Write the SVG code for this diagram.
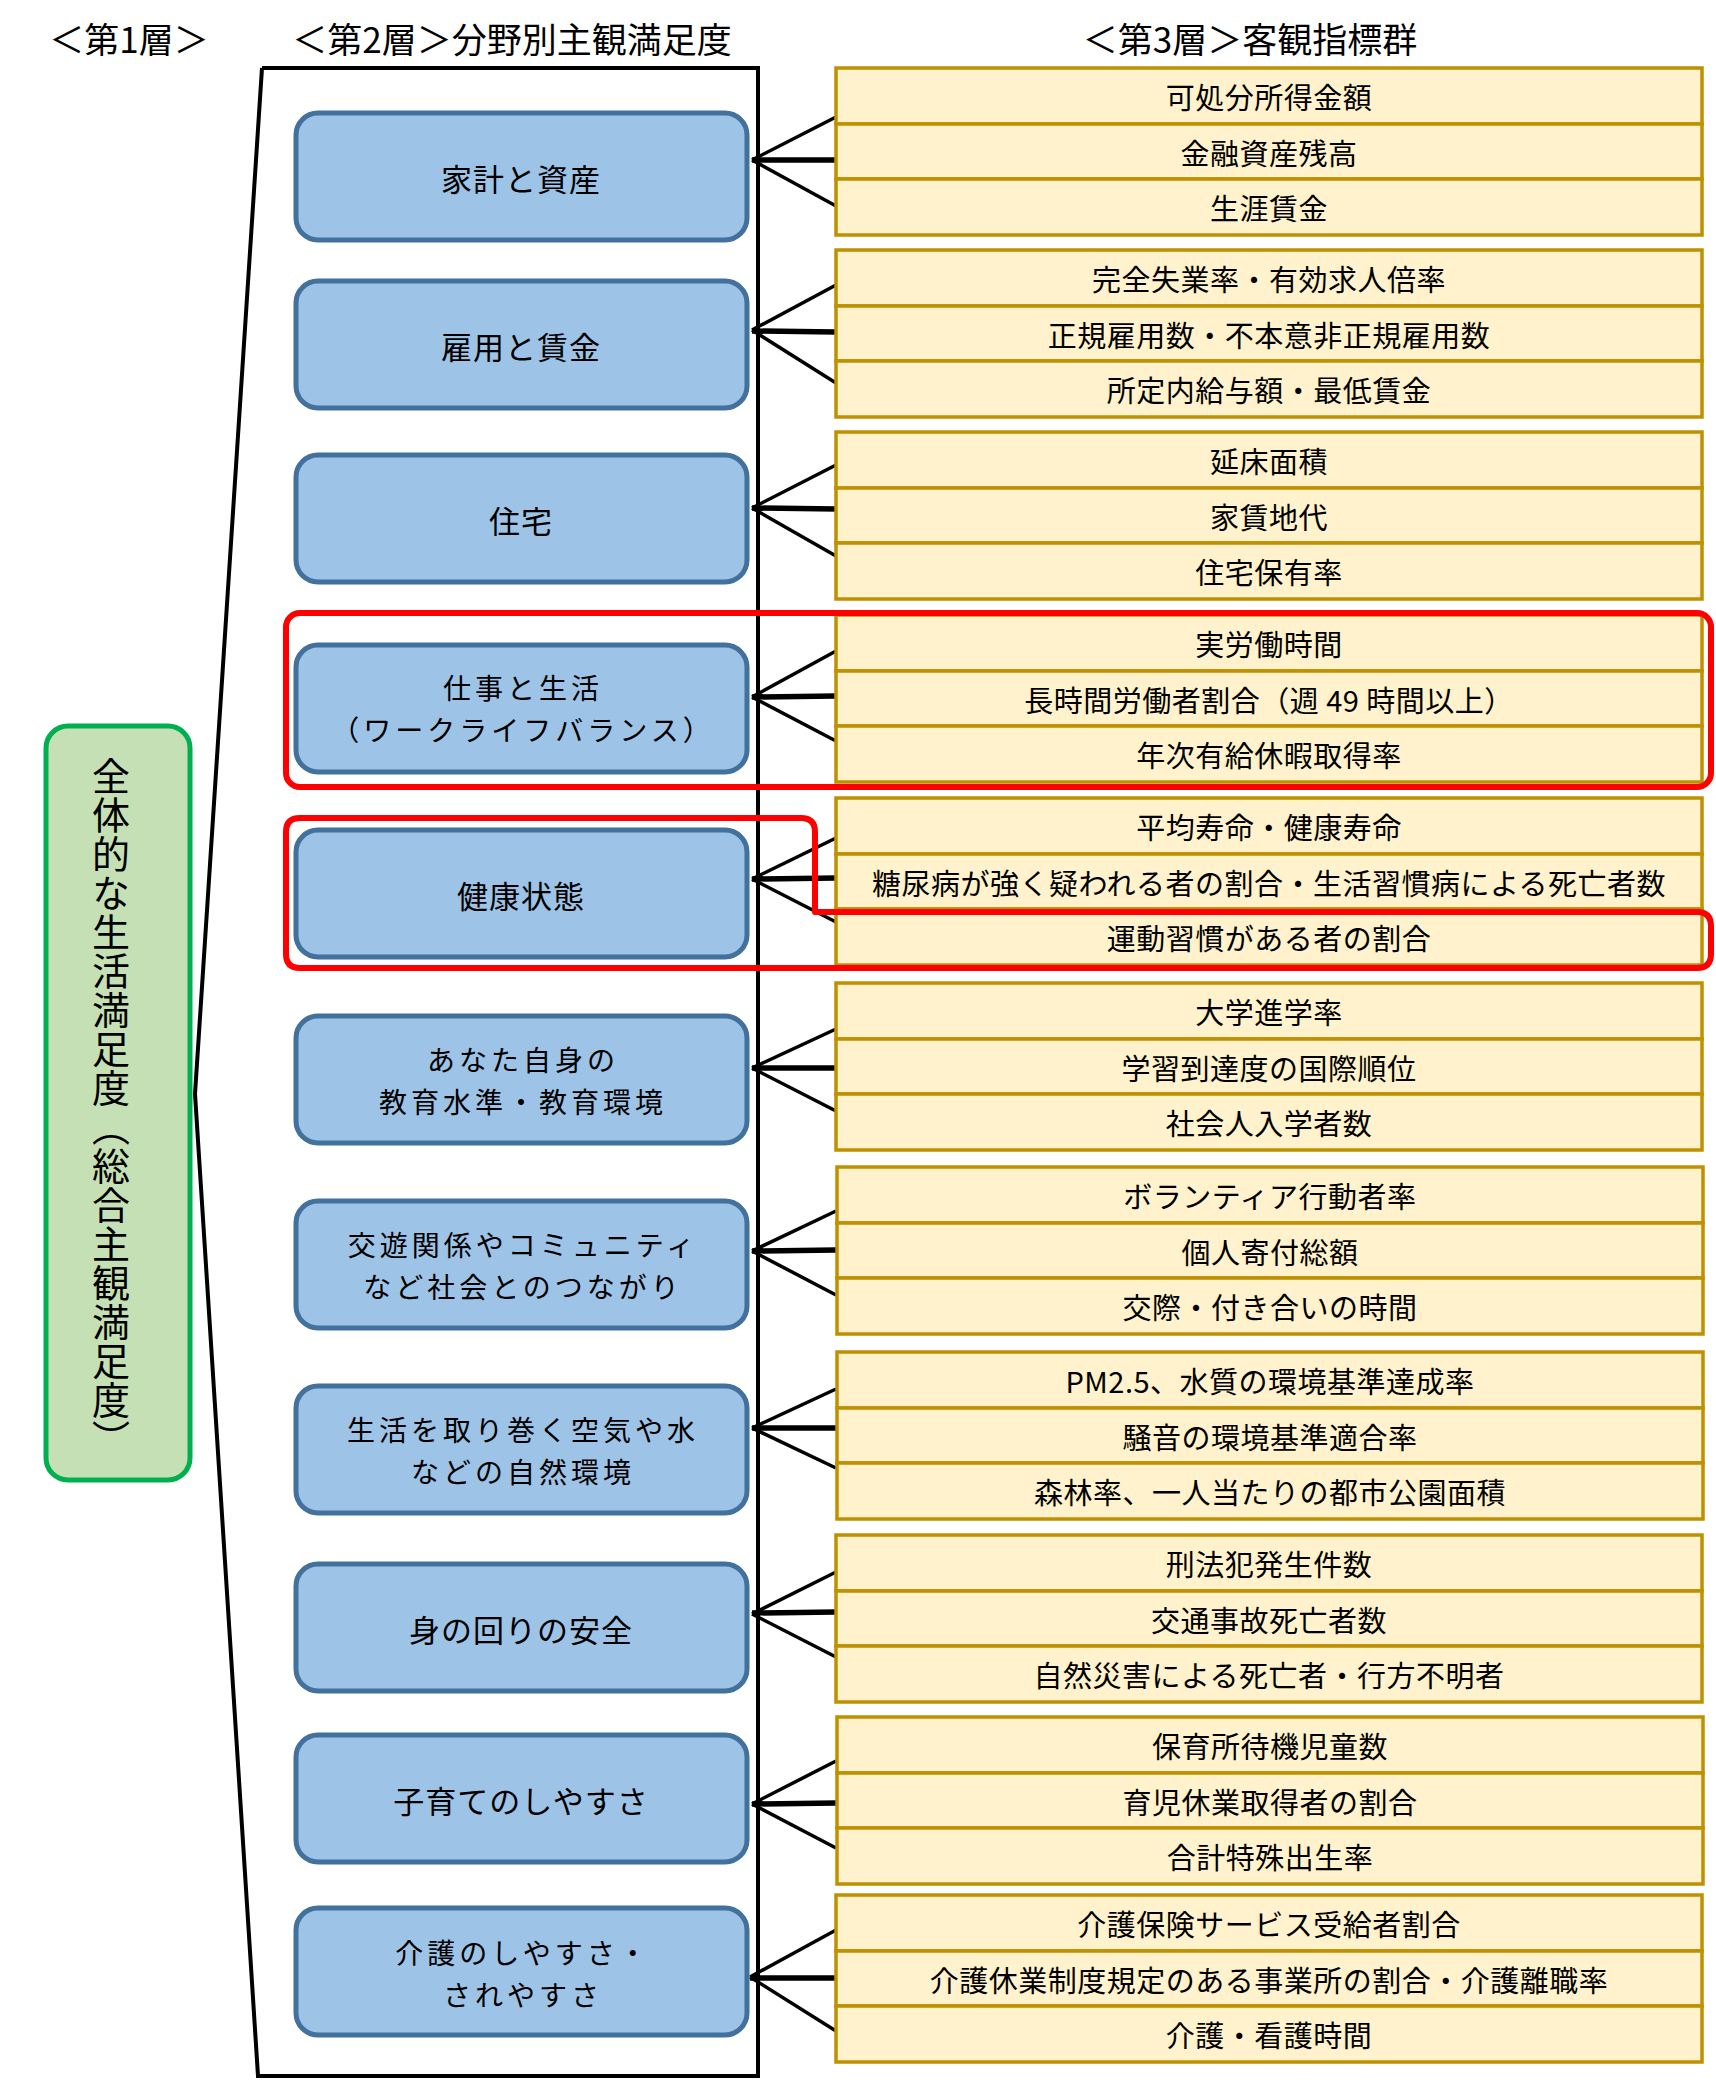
<svg xmlns="http://www.w3.org/2000/svg" width="1716" height="2085" viewBox="0 0 1716 2085">
<defs>
<style>
text{font-family:"Noto Sans CJK JP","Noto Sans CJK SC",sans-serif;fill:#000;}
.title{font-size:35px;text-anchor:middle;dominant-baseline:central;}
.bt{font-size:31px;letter-spacing:1px;text-anchor:middle;dominant-baseline:central;}
.bt2{font-size:28px;letter-spacing:4px;text-anchor:middle;dominant-baseline:central;}
.yt{font-size:29px;letter-spacing:0.5px;text-anchor:middle;dominant-baseline:central;}
.blue{fill:#9DC3E6;stroke:#41719C;stroke-width:5;}
.yel{fill:#FFF2CC;stroke:#BF9000;stroke-width:3.5;}
.green{fill:#C5E0B4;stroke:#00B050;stroke-width:5;}
.red{fill:none;stroke:#FF0000;stroke-width:6;stroke-linejoin:round;}
.frame{fill:none;stroke:#000;stroke-width:4;stroke-linejoin:miter;}
.dl{stroke:#000;stroke-width:3.5;fill:none;}
.ml{stroke:#000;stroke-width:5.5;fill:none;}
.vt{font-size:38px;letter-spacing:1px;writing-mode:vertical-rl;text-anchor:middle;}
</style>
</defs>
<rect x="0" y="0" width="1716" height="2085" fill="#FFFFFF"/>

<g id="titles">
<text class="title" x="129" y="37">＜第1層＞</text>
<text class="title" x="512" y="37">＜第2層＞分野別主観満足度</text>
<text class="title" x="1250" y="37">＜第3層＞客観指標群</text>
</g>

<g id="connectors">
<polyline class="frame" points="262,68 758,68 758,2076 258,2076 195,1094 262,68"/>
<g id="c1"><line class="dl" x1="752" y1="160" x2="836" y2="117"/><line class="ml" x1="752" y1="160" x2="836" y2="160"/><line class="dl" x1="752" y1="160" x2="836" y2="206"/></g>
<g id="c2"><line class="dl" x1="752" y1="330" x2="836" y2="285"/><line class="ml" x1="752" y1="331" x2="836" y2="332"/><line class="dl" x1="752" y1="330" x2="836" y2="383"/></g>
<g id="c3"><line class="dl" x1="752" y1="508" x2="836" y2="465"/><line class="ml" x1="752" y1="508" x2="836" y2="509"/><line class="dl" x1="752" y1="508" x2="836" y2="556"/></g>
<g id="c4"><line class="dl" x1="752" y1="697" x2="836" y2="651"/><line class="ml" x1="752" y1="697" x2="836" y2="696"/><line class="dl" x1="752" y1="697" x2="836" y2="741"/></g>
<g id="c5"><line class="dl" x1="752" y1="879" x2="836" y2="838"/><line class="ml" x1="752" y1="879" x2="836" y2="878"/><line class="dl" x1="752" y1="879" x2="836" y2="922"/></g>
<g id="c6"><line class="dl" x1="752" y1="1068" x2="836" y2="1029"/><line class="ml" x1="752" y1="1068" x2="836" y2="1068"/><line class="dl" x1="752" y1="1068" x2="836" y2="1111"/></g>
<g id="c7"><line class="dl" x1="752" y1="1251" x2="836" y2="1211"/><line class="ml" x1="752" y1="1251" x2="836" y2="1250"/><line class="dl" x1="752" y1="1251" x2="836" y2="1295"/></g>
<g id="c8"><line class="dl" x1="752" y1="1428" x2="836" y2="1389"/><line class="ml" x1="752" y1="1428" x2="836" y2="1428"/><line class="dl" x1="752" y1="1428" x2="836" y2="1468"/></g>
<g id="c9"><line class="dl" x1="752" y1="1614" x2="836" y2="1572"/><line class="ml" x1="752" y1="1613" x2="836" y2="1612"/><line class="dl" x1="752" y1="1614" x2="836" y2="1657"/></g>
<g id="c10"><line class="dl" x1="752" y1="1804" x2="836" y2="1761"/><line class="ml" x1="752" y1="1804" x2="836" y2="1803"/><line class="dl" x1="752" y1="1804" x2="836" y2="1848"/></g>
<g id="c11"><line class="dl" x1="750" y1="1977" x2="836" y2="1930"/><line class="ml" x1="750" y1="1978" x2="836" y2="1978"/><line class="dl" x1="750" y1="1977" x2="836" y2="2031"/></g>
</g>

<g id="overall">
<rect class="green" x="46" y="726" width="144" height="754" rx="22"/>
<text class="vt" x="111" y="1108">全体的な生活満足度（総合主観満足度）</text>
</g>

<g id="b1"><rect class="blue" x="296" y="113" width="451" height="127" rx="22"/><text class="bt" x="521" y="177">家計と資産</text></g>
<g id="b2"><rect class="blue" x="296" y="281" width="451" height="127" rx="22"/><text class="bt" x="521" y="345">雇用と賃金</text></g>
<g id="b3"><rect class="blue" x="296" y="455" width="451" height="127" rx="22"/><text class="bt" x="521" y="519">住宅</text></g>
<g id="b4"><rect class="blue" x="296" y="645" width="451" height="127" rx="22"/><text class="bt2" x="523" y="687">仕事と生活</text><text class="bt2" x="523" y="729">（ワークライフバランス）</text></g>
<g id="b5"><rect class="blue" x="296" y="830" width="451" height="127" rx="22"/><text class="bt" x="521" y="894">健康状態</text></g>
<g id="b6"><rect class="blue" x="296" y="1016" width="451" height="127" rx="22"/><text class="bt2" x="523" y="1059">あなた自身の</text><text class="bt2" x="523" y="1101">教育水準・教育環境</text></g>
<g id="b7"><rect class="blue" x="296" y="1201" width="451" height="127" rx="22"/><text class="bt2" x="523" y="1244">交遊関係やコミュニティ</text><text class="bt2" x="523" y="1286">など社会とのつながり</text></g>
<g id="b8"><rect class="blue" x="296" y="1386" width="451" height="127" rx="22"/><text class="bt2" x="523" y="1429">生活を取り巻く空気や水</text><text class="bt2" x="523" y="1471">などの自然環境</text></g>
<g id="b9"><rect class="blue" x="296" y="1564" width="451" height="127" rx="22"/><text class="bt" x="521" y="1628">身の回りの安全</text></g>
<g id="b10"><rect class="blue" x="296" y="1735" width="451" height="127" rx="22"/><text class="bt" x="521" y="1799">子育てのしやすさ</text></g>
<g id="b11"><rect class="blue" x="296" y="1908" width="451" height="127" rx="22"/><text class="bt2" x="523" y="1952">介護のしやすさ・</text><text class="bt2" x="523" y="1994">されやすさ</text></g>

<g id="y1">
<g id="y1a"><rect class="yel" x="836" y="68" width="866" height="56"/><text class="yt" x="1269" y="96">可処分所得金額</text></g>
<g id="y1b"><rect class="yel" x="836" y="124" width="866" height="55"/><text class="yt" x="1269" y="152">金融資産残高</text></g>
<g id="y1c"><rect class="yel" x="836" y="179" width="866" height="56"/><text class="yt" x="1269" y="207">生涯賃金</text></g>
</g>
<g id="y2">
<g id="y2a"><rect class="yel" x="836" y="250" width="866" height="56"/><text class="yt" x="1269" y="278">完全失業率・有効求人倍率</text></g>
<g id="y2b"><rect class="yel" x="836" y="306" width="866" height="55"/><text class="yt" x="1269" y="334">正規雇用数・不本意非正規雇用数</text></g>
<g id="y2c"><rect class="yel" x="836" y="361" width="866" height="56"/><text class="yt" x="1269" y="389">所定内給与額・最低賃金</text></g>
</g>
<g id="y3">
<g id="y3a"><rect class="yel" x="836" y="432" width="866" height="56"/><text class="yt" x="1269" y="460">延床面積</text></g>
<g id="y3b"><rect class="yel" x="836" y="488" width="866" height="55"/><text class="yt" x="1269" y="516">家賃地代</text></g>
<g id="y3c"><rect class="yel" x="836" y="543" width="866" height="56"/><text class="yt" x="1269" y="571">住宅保有率</text></g>
</g>
<g id="y4">
<g id="y4a"><rect class="yel" x="836" y="615" width="866" height="56"/><text class="yt" x="1269" y="643">実労働時間</text></g>
<g id="y4b"><rect class="yel" x="836" y="671" width="866" height="55"/><text class="yt" x="1269" y="699">長時間労働者割合（週 49 時間以上）</text></g>
<g id="y4c"><rect class="yel" x="836" y="726" width="866" height="56"/><text class="yt" x="1269" y="754">年次有給休暇取得率</text></g>
</g>
<g id="y5">
<g id="y5a"><rect class="yel" x="836" y="798" width="866" height="56"/><text class="yt" x="1269" y="826">平均寿命・健康寿命</text></g>
<g id="y5b"><rect class="yel" x="836" y="854" width="866" height="55"/><text class="yt" x="1269" y="882">糖尿病が強く疑われる者の割合・生活習慣病による死亡者数</text></g>
<g id="y5c"><rect class="yel" x="836" y="909" width="866" height="56"/><text class="yt" x="1269" y="937">運動習慣がある者の割合</text></g>
</g>
<g id="y6">
<g id="y6a"><rect class="yel" x="836" y="983" width="866" height="56"/><text class="yt" x="1269" y="1011">大学進学率</text></g>
<g id="y6b"><rect class="yel" x="836" y="1039" width="866" height="55"/><text class="yt" x="1269" y="1067">学習到達度の国際順位</text></g>
<g id="y6c"><rect class="yel" x="836" y="1094" width="866" height="56"/><text class="yt" x="1269" y="1122">社会人入学者数</text></g>
</g>
<g id="y7">
<g id="y7a"><rect class="yel" x="837" y="1167" width="866" height="56"/><text class="yt" x="1270" y="1195">ボランティア行動者率</text></g>
<g id="y7b"><rect class="yel" x="837" y="1223" width="866" height="55"/><text class="yt" x="1270" y="1251">個人寄付総額</text></g>
<g id="y7c"><rect class="yel" x="837" y="1278" width="866" height="56"/><text class="yt" x="1270" y="1306">交際・付き合いの時間</text></g>
</g>
<g id="y8">
<g id="y8a"><rect class="yel" x="837" y="1352" width="866" height="56"/><text class="yt" x="1270" y="1380">PM2.5、水質の環境基準達成率</text></g>
<g id="y8b"><rect class="yel" x="837" y="1408" width="866" height="55"/><text class="yt" x="1270" y="1436">騒音の環境基準適合率</text></g>
<g id="y8c"><rect class="yel" x="837" y="1463" width="866" height="56"/><text class="yt" x="1270" y="1491">森林率、一人当たりの都市公園面積</text></g>
</g>
<g id="y9">
<g id="y9a"><rect class="yel" x="836" y="1535" width="866" height="56"/><text class="yt" x="1269" y="1563">刑法犯発生件数</text></g>
<g id="y9b"><rect class="yel" x="836" y="1591" width="866" height="55"/><text class="yt" x="1269" y="1619">交通事故死亡者数</text></g>
<g id="y9c"><rect class="yel" x="836" y="1646" width="866" height="56"/><text class="yt" x="1269" y="1674">自然災害による死亡者・行方不明者</text></g>
</g>
<g id="y10">
<g id="y10a"><rect class="yel" x="837" y="1717" width="866" height="56"/><text class="yt" x="1270" y="1745">保育所待機児童数</text></g>
<g id="y10b"><rect class="yel" x="837" y="1773" width="866" height="55"/><text class="yt" x="1270" y="1801">育児休業取得者の割合</text></g>
<g id="y10c"><rect class="yel" x="837" y="1828" width="866" height="56"/><text class="yt" x="1270" y="1856">合計特殊出生率</text></g>
</g>
<g id="y11">
<g id="y11a"><rect class="yel" x="836" y="1895" width="866" height="56"/><text class="yt" x="1269" y="1923">介護保険サービス受給者割合</text></g>
<g id="y11b"><rect class="yel" x="836" y="1951" width="866" height="55"/><text class="yt" x="1269" y="1979">介護休業制度規定のある事業所の割合・介護離職率</text></g>
<g id="y11c"><rect class="yel" x="836" y="2006" width="866" height="56"/><text class="yt" x="1269" y="2034">介護・看護時間</text></g>
</g>

<g id="highlights">
<rect class="red" x="286" y="613" width="1425" height="174" rx="14"/>
<path class="red" d="M300,818 H801 Q815,818 815,832 V912 H1697 Q1711,912 1711,926 V954 Q1711,968 1697,968 H300 Q286,968 286,954 V832 Q286,818 300,818 Z"/>
</g>
</svg>
